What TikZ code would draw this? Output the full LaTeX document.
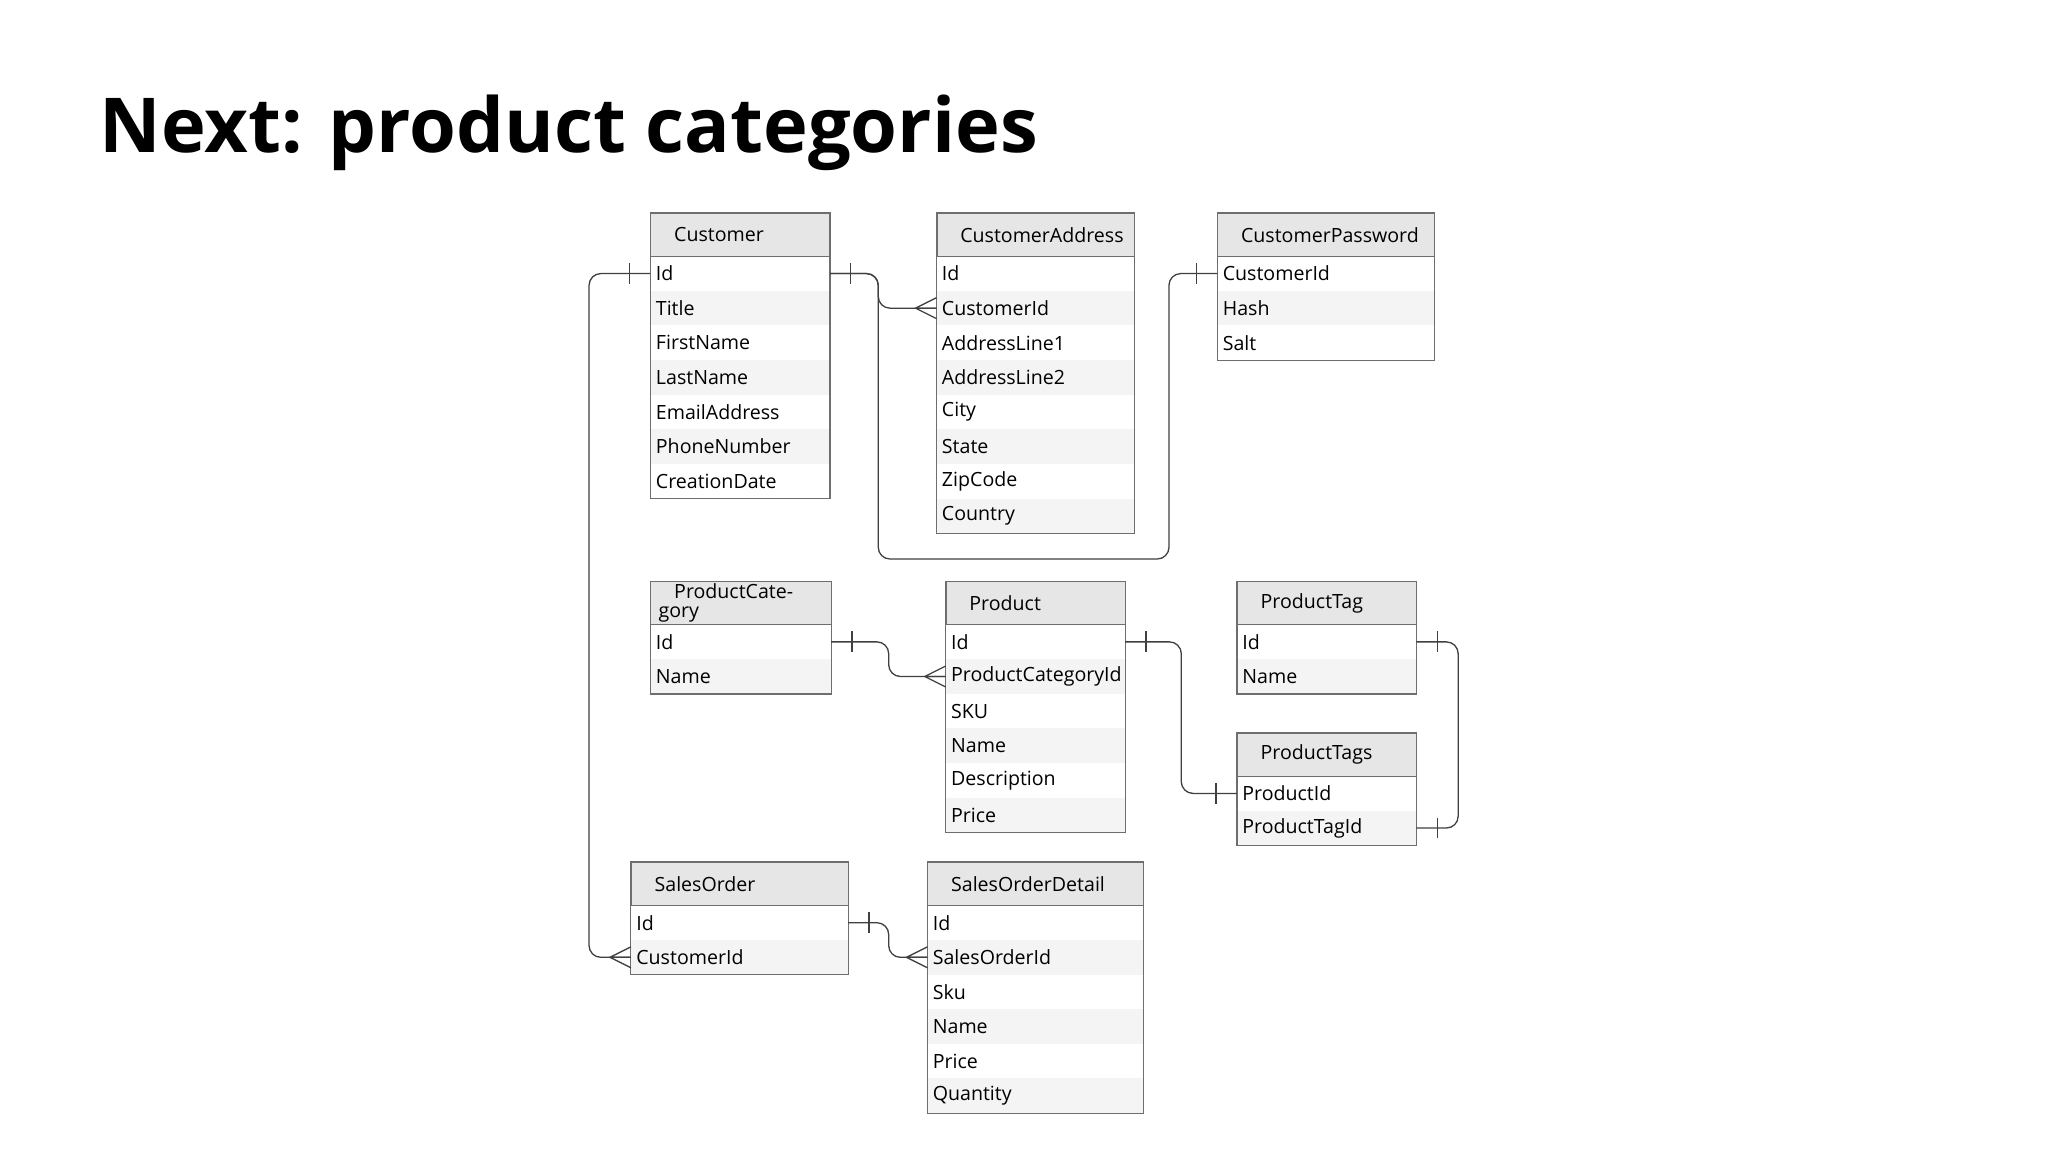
\documentclass[tikz,border=0pt]{standalone}
\usepackage{fontspec}
\setmainfont{Open Sans}
\usetikzlibrary{calc}
\definecolor{hdrgray}{HTML}{E6E6E6}
\definecolor{rowgray}{HTML}{F4F4F4}
\definecolor{bordergray}{HTML}{6E6E6E}
\tikzset{
  hdr/.style={draw=bordergray, fill=hdrgray, minimum height=33pt, inner sep=0pt, font=\fontsize{15}{15}\selectfont, align=left},
  rowbox/.style={minimum height=26.5pt, inner sep=0pt, font=\fontsize{15}{15}\selectfont, align=left},
  conn/.style={draw=black!75, line width=1pt, rounded corners=9pt},
  ermark/.style={draw=black!75, line width=1pt}
}
\newcommand\erTable[7]{%
  \pgfmathsetmacro\tw{#3-#2}%
  \node[hdr, minimum width=\tw pt, anchor=north west, text width=\tw pt-12pt] (#1) at (#2,#4) {\hspace*{12pt}#5};
  \foreach \r [count=\i] in {#6} {
    \pgfmathsetmacro\yy{#4+33+(\i-1)*26.5}
    \pgfmathtruncatemacro\odd{mod(\i,2)}
    \ifnum\odd=0 \def\fc{rowgray}\else\def\fc{white}\fi
    \node[rowbox, fill=\fc, minimum width=\tw pt, text width=\tw pt, anchor=north west] (#1-\i) at (#2,\yy) {\hspace*{4pt}\r};
  }
  \draw[draw=bordergray, line width=0.9pt] (#1.north west) rectangle (#1-#7.south east);
  \draw[draw=bordergray, line width=0.9pt] (#1.south west) -- (#1.south east);
}
\newcommand\barE[1]{\draw[ermark] ([xshift=16pt,yshift=8pt]#1) -- ([xshift=16pt,yshift=-8pt]#1);}
\newcommand\barW[1]{\draw[ermark] ([xshift=-16pt,yshift=8pt]#1) -- ([xshift=-16pt,yshift=-8pt]#1);}
\newcommand\crowW[1]{\draw[ermark] ([yshift=-8pt]#1) -- ([xshift=-16pt]#1) -- ([yshift=8pt]#1) ([xshift=-16pt]#1) -- (#1);}
\begin{document}
\begin{tikzpicture}[x=1pt,y=-1pt]
\useasboundingbox[fill=white] (0,0) rectangle (1568,882);
\node[anchor=base west, inner sep=0pt, font=\fontsize{58}{58}\selectfont\bfseries] (title) at (76,117) {Next: product categories};

\erTable{cust}{498}{635}{163}{Customer}{Id,Title,FirstName,LastName,EmailAddress,PhoneNumber,CreationDate}{7}
\erTable{addr}{717}{868}{163}{CustomerAddress}{Id,CustomerId,AddressLine1,AddressLine2,City,State,ZipCode,Country}{8}
\erTable{pw}{932}{1098}{163}{CustomerPassword}{CustomerId,Hash,Salt}{3}
\erTable{pcat}{498}{636}{445}{ProductCategory}{Id,Name}{2}
\erTable{prod}{724}{861}{445}{Product}{Id,ProductCategoryId,SKU,Name,Description,Price}{6}
\erTable{ptag}{947}{1084}{445}{ProductTag}{Id,Name}{2}
\erTable{ptags}{947}{1084}{561}{ProductTags}{ProductId,ProductTagId}{2}
\erTable{so}{483}{649}{660}{SalesOrder}{Id,CustomerId}{2}
\erTable{sod}{710}{875}{660}{SalesOrderDetail}{Id,SalesOrderId,Sku,Name,Price,Quantity}{6}

\coordinate (c1) at (895,428);
\coordinate (c2) at (451,500);
% Customer -> CustomerAddress
\draw[conn] (cust-1.east) -- ++(37,0) |- (addr-2.west);
\barE{cust-1.east}
\crowW{addr-2.west}
% Customer -> CustomerPassword
\draw[conn] (cust-1.east) -- ++(37,0) |- (c1) |- (pw-1.west);
\barW{pw-1.west}
% Customer -> SalesOrder
\draw[conn] (cust-1.west) -| (c2) |- (so-2.west);
\barW{cust-1.west}
\crowW{so-2.west}
% ProductCategory -> Product
\draw[conn] (pcat-1.east) -- ++(44,0) |- (prod-2.west);
\barE{pcat-1.east}
\crowW{prod-2.west}
% Product -> ProductTags
\draw[conn] (prod-1.east) -- ++(43,0) |- (ptags-1.west);
\barE{prod-1.east}
\barW{ptags-1.west}
% ProductTag -> ProductTags
\draw[conn] (ptag-1.east) -- ++(32,0) |- (ptags-2.east);
\barE{ptag-1.east}
\barE{ptags-2.east}
% SalesOrder -> SalesOrderDetail
\draw[conn] (so-1.east) -- ++(31,0) |- (sod-2.west);
\barE{so-1.east}
\crowW{sod-2.west}
\end{tikzpicture}
\end{document}
